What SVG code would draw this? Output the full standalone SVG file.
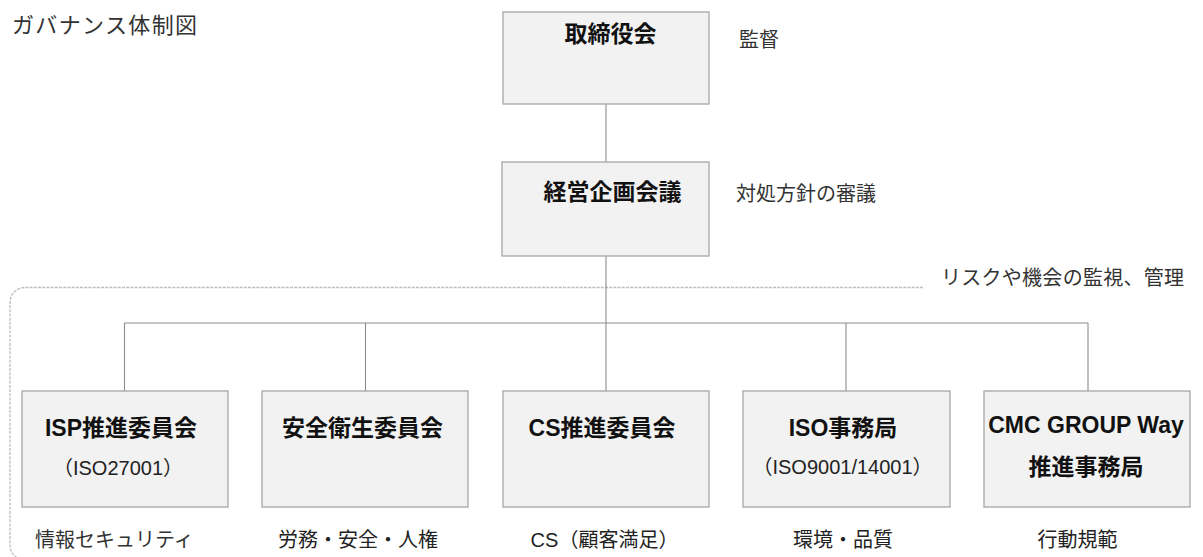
<svg xmlns="http://www.w3.org/2000/svg" width="1203" height="557" viewBox="0 0 1203 557">
<style>
  .box{fill:#f2f2f2;stroke:#a6a6a6;stroke-width:1.3}
  .conn{fill:none;stroke:#8c8c8c;stroke-width:1.1}
  .dash{fill:none;stroke:#bdbdbd;stroke-width:1.3;stroke-dasharray:3 1.2}
  .t{font-family:"Liberation Sans","Noto Sans CJK JP",sans-serif;font-weight:bold;font-size:23px;fill:#111;text-anchor:middle}
  .s{font-family:"Liberation Sans","Noto Sans CJK JP",sans-serif;font-size:20px;fill:#222;text-anchor:middle}
  .l{font-family:"Liberation Sans","Noto Sans CJK JP",sans-serif;font-size:20px;fill:#333}
  .h{font-family:"Liberation Sans","Noto Sans CJK JP",sans-serif;font-size:22px;fill:#333}
</style>
<rect width="1203" height="557" fill="#ffffff"/>
<text class="h" x="12" y="33" textLength="185" lengthAdjust="spacing">ガバナンス体制図</text>

<g id="connectors">
  <path class="dash" d="M923 287.5 H25 A15 15 0 0 0 10 302.5 V545 A15 15 0 0 0 25 560"/>
  <line class="conn" x1="606" y1="104" x2="606" y2="162"/>
  <line class="conn" x1="606" y1="256" x2="606" y2="391"/>
  <line class="conn" x1="124.5" y1="323" x2="1088" y2="323"/>
  <line class="conn" x1="124.5" y1="323" x2="124.5" y2="391"/>
  <line class="conn" x1="365.5" y1="323" x2="365.5" y2="391"/>
  <line class="conn" x1="846" y1="323" x2="846" y2="391"/>
  <line class="conn" x1="1088" y1="323" x2="1088" y2="391"/>
</g>

<g id="board">
  <rect class="box" x="503" y="12" width="206" height="92"/>
  <text class="t" x="610.5" y="42">取締役会</text>
  <text class="l" x="739" y="47">監督</text>
</g>

<g id="mgmt">
  <rect class="box" x="502" y="162" width="207" height="94"/>
  <text class="t" x="612.5" y="200">経営企画会議</text>
  <text class="l" x="736" y="201">対処方針の審議</text>
</g>

<text id="risk-label" class="l" x="941" y="285" textLength="243" lengthAdjust="spacing">リスクや機会の監視、管理</text>

<g id="isp">
  <rect class="box" x="22" y="391" width="206" height="116"/>
  <text class="t" x="121" y="436">ISP推進委員会</text>
  <text class="s" x="118" y="475">（ISO27001）</text>
  <text class="l" x="35" y="547">情報セキュリティ</text>
</g>

<g id="safety">
  <rect class="box" x="262" y="391" width="206" height="116"/>
  <text class="t" x="362.5" y="436">安全衛生委員会</text>
  <text class="s" x="358" y="547">労務・安全・人権</text>
</g>

<g id="cs">
  <rect class="box" x="503" y="391" width="206" height="116"/>
  <text class="t" x="602" y="436">CS推進委員会</text>
  <text class="s" x="604.5" y="547">CS（顧客満足）</text>
</g>

<g id="iso">
  <rect class="box" x="743" y="391" width="207" height="116"/>
  <text class="t" x="843" y="436">ISO事務局</text>
  <text class="s" x="842.5" y="474">（ISO9001/14001）</text>
  <text class="s" x="843" y="547">環境・品質</text>
</g>

<g id="cmc">
  <rect class="box" x="984" y="391" width="206" height="116"/>
  <text class="t" x="1086" y="433">CMC GROUP Way</text>
  <text class="t" x="1086" y="475">推進事務局</text>
  <text class="s" x="1077.5" y="547">行動規範</text>
</g>
</svg>
